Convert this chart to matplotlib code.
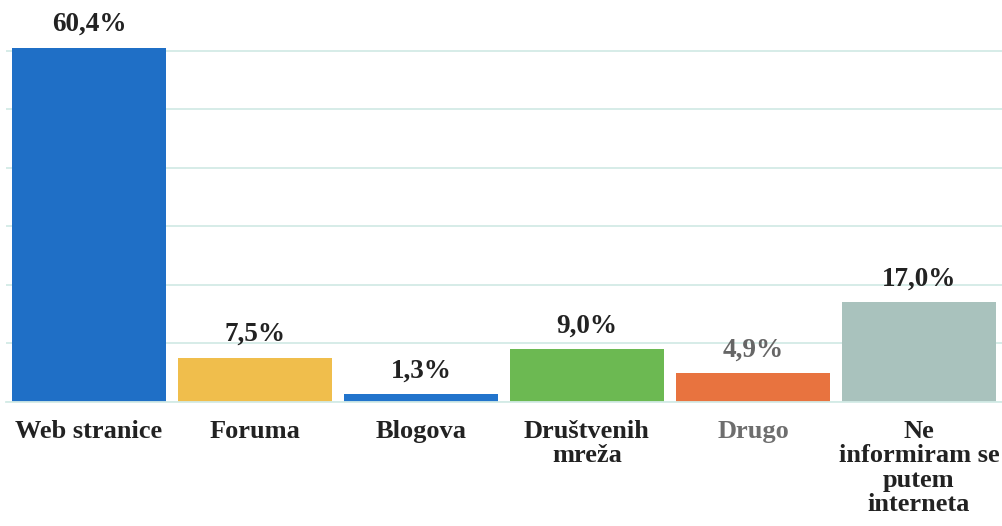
import matplotlib.pyplot as plt

# podaci
kategorije = ["Web stranice", "Foruma", "Blogova", "Društvenih\nmreža", "Drugo",
              "Ne\ninformiram se\nputem\ninterneta"]
postoci = [60.4, 7.5, 1.3, 9.0, 4.9, 17.0]
oznake = ["60,4%", "7,5%", "1,3%", "9,0%", "4,9%", "17,0%"]
boje = ["#1f6fc6", "#f0be4c", "#2274cc", "#6cb952", "#e8733f", "#a9c2bd"]
boje_teksta = ["#222222", "#222222", "#222222", "#222222", "#6e6e6e", "#222222"]

plt.rcParams['font.family'] = ['Liberation Serif', 'DejaVu Serif']

fig = plt.figure(figsize=(10.02, 5.26), dpi=100)
ax = fig.add_axes([6 / 1002, 1 - 402 / 526, 996 / 1002, (402 - 33) / 526])

x = range(len(postoci))
bars = ax.bar(x, postoci, width=0.93, color=boje, zorder=2)

for b, txt in zip(bars, oznake):
    c = "#666666" if txt == "4,9%" else "#222222"
    ax.annotate(txt, (b.get_x() + b.get_width() / 2, b.get_height()),
                xytext=(0, 8), textcoords="offset points", ha="center", va="bottom",
                fontsize=19.5, fontweight="bold", color=c, clip_on=False)

ax.set_xlim(-0.5, 5.5)
ax.set_ylim(0, 63)
ax.set_yticks(range(0, 61, 10))
ax.yaxis.grid(True, color="#d3ebe6", linewidth=1.3, zorder=0)
ax.set_axisbelow(True)
ax.tick_params(axis="y", left=False, labelleft=False)
ax.tick_params(axis="x", length=0, pad=13)
ax.set_xticks(list(x))
ax.set_xticklabels(kategorije, fontsize=19, fontweight="bold", linespacing=1.08)
for lbl, c in zip(ax.get_xticklabels(), boje_teksta):
    lbl.set_color(c)
for s in ["top", "right", "left"]:
    ax.spines[s].set_visible(False)
ax.spines["bottom"].set_color("#d3ebe6")
ax.spines["bottom"].set_linewidth(1.3)

fig.savefig("out.png", dpi=100)
